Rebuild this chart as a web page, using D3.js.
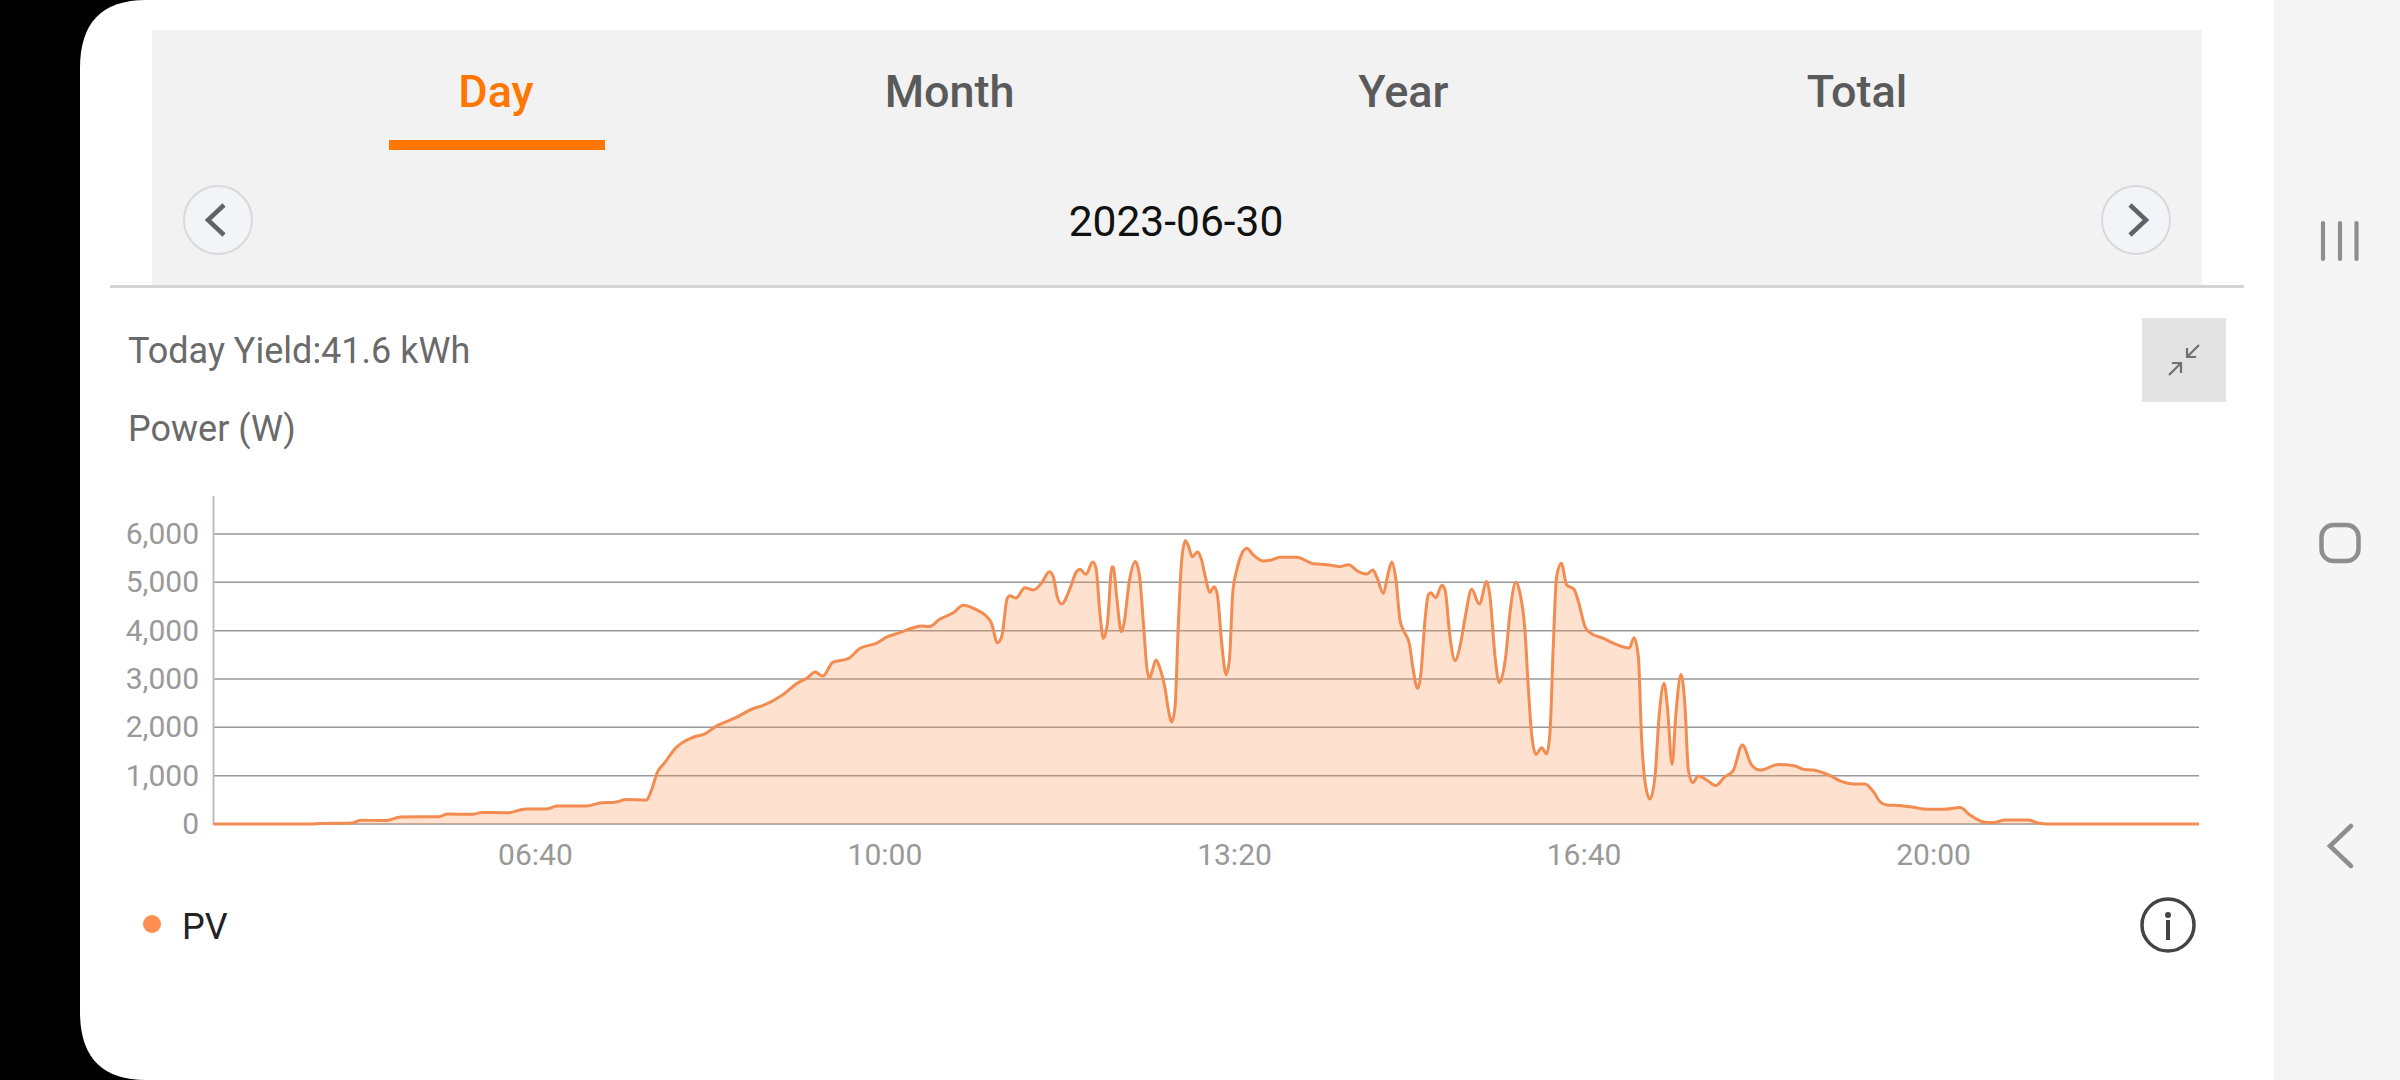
<!DOCTYPE html>
<html>
<head>
<meta charset="utf-8">
<script src="https://cdn.jsdelivr.net/npm/d3@7"></script>
<style>
  html, body { margin: 0; padding: 0; background: #000; overflow: hidden; }
  svg { display: block; font-family: Roboto, sans-serif; }
  .axis path, .axis line { display: none; }
</style>
</head>
<body>
<div id="chart"></div>
<script>
(function(){
  var tabs = ['Day', 'Month', 'Year', 'Total'];
  var dateLabel = '2023-06-30';
  var yieldLabel = 'Today Yield:41.6 kWh';
  var unitLabel = 'Power (W)';
  var seriesName = 'PV';

  var yTicks = [0, 1000, 2000, 3000, 4000, 5000, 6000];
  var xTicks = [400, 600, 800, 1000, 1200]; // minutes of the day, 06:40 .. 20:00

  // minutes of the day
  var times = [
    215.5, 270, 276.7, 294.6, 299.7, 313.7, 322.7, 344.4, 349.5, 363.6, 369.2, 384, 394.2, 405.7, 412.1, 428.7, 437.7, 445.3, 451.7, 463.2, 465.8,
    469.6, 473.4, 479.8, 490, 496.4, 502.8, 514.3, 524.5, 530.1, 541.1, 550.1, 555.2, 559.8, 564.1, 570, 578.7, 585.3, 594.8, 601.2, 608.3,
    616, 620.7, 625.1, 631.2, 638.8, 644.5, 652.2, 657, 660.8, 664, 666.5, 669.7, 671.2, 674.7, 679.8, 684.6, 689.4, 693.8, 696, 698.3,
    700.8, 705.6, 709, 711.3, 714.7, 718.6, 720.5, 722.7, 724.7, 727, 729.6, 730.4, 732.3, 735, 736.5, 739.5, 743, 745.3, 747.6, 749.5,
    751, 752.5, 754.8, 757.1, 760, 761.9, 763.8, 765.7, 767.6, 769.5, 771.6, 773.5, 775.4, 778.6, 780.9, 782.8, 785.7, 788, 789.9, 792.4,
    794.9, 796.8, 798.7, 801, 803.8, 806.7, 810.5, 816.2, 820, 825.8, 835.3, 844.8, 852.5, 860.1, 864.9, 870.6, 875.4, 878.8, 881.1, 884.9,
    887.2, 889.7, 892.1, 894.4, 896.3, 899.7, 902, 904.5, 906.2, 908.7, 910.6, 912, 914.8, 918.4, 920.2, 923, 925.9, 928.7, 931.6, 935.4,
    939.8, 944, 945.9, 948.8, 951.2, 955.1, 957.3, 960.8, 963.1, 965.9, 967.8, 969.7, 972.2, 975.5, 978.3, 980.2, 982.1, 984, 986.7, 989.8,
    994, 996.5, 1000.3, 1003.1, 1010.8, 1016.5, 1025.6, 1028.3, 1030.8, 1032.7, 1035.2, 1037.5, 1040.3, 1042.8, 1045.5, 1047.4, 1050.1, 1052.3, 1055.2, 1057.5,
    1059.4, 1061.9, 1065.1, 1069.9, 1075, 1080.4, 1085.1, 1090.3, 1095.6, 1100.4, 1110.9, 1120.4, 1125.2, 1130.9, 1140.5, 1147.2, 1153.8, 1160.5, 1165.3, 1169.1,
    1172.9, 1181.5, 1188.2, 1195.8, 1205.3, 1214.9, 1220.6, 1229.2, 1234, 1240.6, 1254, 1259.7, 1264.5, 1351.6
  ];

  // watts at those minutes
  var power = [
    0, 0, 8, 20, 80, 70, 145, 150, 205, 200, 240, 235, 310, 310, 370, 370, 440, 450, 505, 495, 670,
    1080, 1255, 1565, 1795, 1860, 2015, 2200, 2390, 2455, 2670, 2925, 3020, 3145, 3060, 3350, 3420, 3630, 3740, 3875, 3960,
    4060, 4095, 4085, 4240, 4370, 4525, 4430, 4325, 4140, 3750, 3875, 4670, 4720, 4675, 4890, 4840, 4990, 5220, 5120, 4705,
    4550, 4875, 5200, 5270, 5165, 5420, 5290, 4360, 3840, 4150, 5325, 5310, 4700, 3980, 4150, 5015, 5430, 5150, 4150, 3255,
    3005, 3150, 3395, 3220, 2805, 2360, 2110, 2430, 4150, 5460, 5860, 5740, 5530, 5630, 5460, 5150, 4795, 4910, 4740, 3740,
    3090, 3395, 4770, 5255, 5585, 5705, 5565, 5440, 5455, 5520, 5520, 5385, 5365, 5325, 5365, 5220, 5170, 5255, 5115, 4770,
    5115, 5420, 5050, 4220, 4015, 3740, 3185, 2805, 3050, 4220, 4740, 4785, 4680, 4940, 4840, 3875, 3380, 3670, 4255, 4855,
    4550, 5015, 4705, 3460, 2925, 3530, 4360, 5000, 4770, 4015, 2840, 1875, 1440, 1580, 1450, 1875, 3670, 5115, 5395, 4945,
    4855, 4600, 4085, 3960, 3840, 3740, 3640, 3855, 3460, 1740, 740, 515, 980, 2290, 2910, 2430, 1235, 2290, 3095, 2430,
    1115, 855, 995, 910, 795, 980, 1105, 1635, 1220, 1115, 1230, 1200, 1130, 1115, 1000, 875, 830, 830, 670, 460,
    395, 380, 345, 305, 305, 340, 185, 35, 30, 85, 85, 20, 0, 0
  ];

  var orange = '#ff7700';
  var lineColor = '#f28c50';

  var svg = d3.select('#chart').append('svg')
    .attr('width', 2400)
    .attr('height', 1080);

  // Phone frame
  svg.append('rect').attr('width', 2400).attr('height', 1080).attr('fill', '#000');
  svg.append('path')
    .attr('d', 'M146,0 H2274 V1080 H146 Q80,1080 80,1012 V68 Q80,0 146,0 Z')
    .attr('fill', '#fff');
  svg.append('rect').attr('x', 2274).attr('width', 126).attr('height', 1080).attr('fill', '#f5f5f5');

  var nav = svg.append('g').attr('fill', 'none').attr('stroke', '#8e8e8e').attr('stroke-linecap', 'round');
  [2323, 2340, 2356.5].forEach(function(x) {
    nav.append('line').attr('x1', x).attr('x2', x).attr('y1', 223).attr('y2', 259).attr('stroke-width', 4.2);
  });
  nav.append('rect').attr('x', 2321.5).attr('y', 525).attr('width', 37).attr('height', 36).attr('rx', 12).attr('stroke-width', 4.5);
  nav.append('path').attr('d', 'M2351,826 L2330,846 L2351,866').attr('stroke-width', 4.5);

  // Header with tabs and date
  svg.append('rect').attr('x', 152).attr('y', 30).attr('width', 2050).attr('height', 255).attr('fill', '#f2f2f2');
  svg.append('rect').attr('x', 110).attr('y', 285).attr('width', 2134).attr('height', 3).attr('fill', '#d3d3d3');

  var tabX = d3.scalePoint().domain(tabs).range([496, 1857]);
  svg.append('g').selectAll('text')
    .data(tabs)
    .enter()
    .append('text')
    .attr('x', function(d) {return tabX(d);})
    .attr('y', 107)
    .attr('text-anchor', 'middle')
    .attr('font-size', 45)
    .attr('font-weight', 500)
    .attr('fill', function(d, i) {return i === 0 ? orange : '#5a5a5a';})
    .text(function(d) {return d;});

  svg.append('rect').attr('x', 389).attr('y', 140).attr('width', 216).attr('height', 10).attr('fill', orange);

  [[218, 'M224,205 L208,220 L224,235'], [2136, 'M2130,205 L2146,220 L2130,235']].forEach(function(b) {
    svg.append('circle').attr('cx', b[0]).attr('cy', 220).attr('r', 34)
      .attr('fill', '#f2f4f8').attr('stroke', '#d9d9d9').attr('stroke-width', 2);
    svg.append('path').attr('d', b[1]).attr('fill', 'none').attr('stroke', '#5f6368').attr('stroke-width', 4.5);
  });

  svg.append('text').attr('x', 1176).attr('y', 236).attr('text-anchor', 'middle')
    .attr('font-size', 42.5).attr('fill', '#111').text(dateLabel);

  // Titles
  svg.append('text').attr('x', 128).attr('y', 363).attr('font-size', 36).attr('fill', '#6a6a6a').text(yieldLabel);
  svg.append('text').attr('x', 128).attr('y', 441).attr('font-size', 36).attr('fill', '#6a6a6a').text(unitLabel);

  // Shrink button
  svg.append('rect').attr('x', 2142).attr('y', 318).attr('width', 84).attr('height', 84).attr('fill', '#e3e3e3');
  svg.append('path')
    .attr('d', 'M2199,345 L2187,357 M2187,348 V357 H2196 M2169,375 L2181,363 M2172,363 H2181 V373')
    .attr('fill', 'none').attr('stroke', '#707070').attr('stroke-width', 2.2);

  // Chart
  var x = d3.scaleLinear().domain([215.5, 1351.6]).range([213.5, 2199]);
  var y = d3.scaleLinear().domain([0, 6000]).range([824, 534]);

  var points = times.map(function(t, i) {return {t: t, w: power[i]};});

  var area = d3.area()
    .x(function(d) {return x(d.t);})
    .y0(y(0))
    .y1(function(d) {return y(d.w);})
    .curve(d3.curveMonotoneX);

  var line = d3.line()
    .x(function(d) {return x(d.t);})
    .y(function(d) {return y(d.w);})
    .curve(d3.curveMonotoneX);

  svg.append('g').selectAll('line')
    .data(yTicks)
    .enter()
    .append('line')
    .attr('x1', x.range()[0])
    .attr('x2', x.range()[1])
    .attr('y1', function(d) {return y(d);})
    .attr('y2', function(d) {return y(d);})
    .attr('stroke', '#989898')
    .attr('stroke-width', 1.5);

  svg.append('line').attr('x1', x.range()[0]).attr('x2', x.range()[0]).attr('y1', 496).attr('y2', 825)
    .attr('stroke', '#bdbdbd').attr('stroke-width', 2);

  svg.append('path').datum(points).attr('d', area).attr('fill', '#ff8f50').attr('fill-opacity', 0.27);
  svg.append('path').datum(points).attr('d', line).attr('fill', 'none')
    .attr('stroke', lineColor).attr('stroke-width', 3);

  var yAxis = svg.append('g').attr('class', 'axis')
    .attr('transform', 'translate(199,0)')
    .call(d3.axisLeft(y).tickValues(yTicks).tickSize(0).tickPadding(0).tickFormat(d3.format(',')));
  yAxis.selectAll('text').attr('font-size', 30).attr('fill', '#999').attr('font-family', 'Roboto, sans-serif');

  var xAxis = svg.append('g').attr('class', 'axis')
    .attr('transform', 'translate(-1,824)')
    .call(d3.axisBottom(x).tickValues(xTicks).tickSize(0).tickPadding(0).tickFormat(function(m) {
      return d3.format('02')(Math.floor(m / 60)) + ':' + d3.format('02')(m % 60);
    }));
  xAxis.selectAll('text').attr('y', 20).attr('font-size', 30).attr('fill', '#999').attr('font-family', 'Roboto, sans-serif');

  // Legend and info
  svg.append('circle').attr('cx', 152).attr('cy', 924).attr('r', 9).attr('fill', '#ff8f50');
  svg.append('text').attr('x', 182).attr('y', 939).attr('font-size', 36).attr('fill', '#222').text(seriesName);

  svg.append('circle').attr('cx', 2168).attr('cy', 925).attr('r', 26)
    .attr('fill', 'none').attr('stroke', '#444').attr('stroke-width', 3.5);
  svg.append('circle').attr('cx', 2168).attr('cy', 915).attr('r', 3).attr('fill', '#444');
  svg.append('rect').attr('x', 2166).attr('y', 920).attr('width', 4).attr('height', 20).attr('fill', '#444');
})();
</script>
</body>
</html>
